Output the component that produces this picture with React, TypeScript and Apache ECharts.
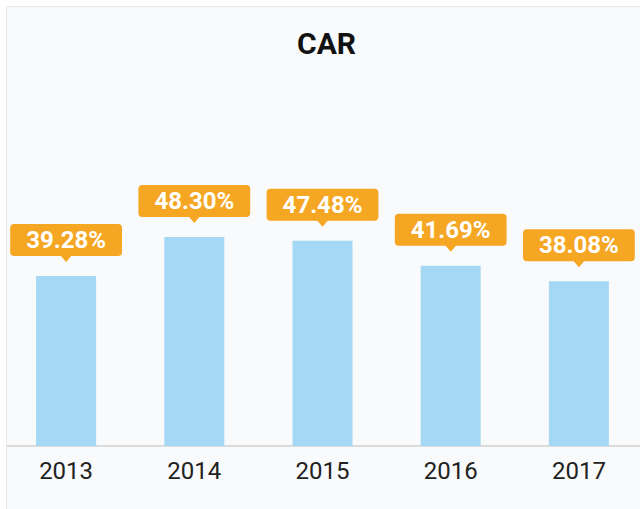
import React, { useEffect, useRef } from "react";
import * as echarts from "echarts";

const chartTitle = "CAR";
const categories = ["2013", "2014", "2015", "2016", "2017"];
const values = [39.28, 48.3, 47.48, 41.69, 38.08];

const ORANGE = "#f5a623";
const BAR = "#a5d8f5";

export default function App() {
  const ref = useRef<HTMLDivElement>(null);

  useEffect(() => {
    if (!ref.current) return;
    const chart = echarts.init(ref.current, null, { renderer: "svg" });
    const labels = values.map((v) => v.toFixed(2) + "%");
    chart.setOption({
      animation: false,
      backgroundColor: "transparent",
      textStyle: { fontFamily: "Roboto" },
      title: {
        text: chartTitle,
        left: "center",
        top: 23,
        textStyle: { fontFamily: "Roboto", fontSize: 30, fontWeight: "bold", color: "#111" },
      },
      grid: { left: 2, width: 641, top: 13.5, height: 432.5 },
      xAxis: {
        type: "category",
        data: categories,
        axisLine: { show: true, lineStyle: { color: "#dcdcdc", width: 2 } },
        axisTick: { show: false },
        axisLabel: { fontFamily: "Roboto", fontSize: 24, color: "#222", margin: 13 },
      },
      yAxis: { type: "value", min: 0, max: 100, show: false },
      series: [
        {
          type: "bar",
          data: values,
          barWidth: 60,
          itemStyle: { color: BAR },
        },
        {
          type: "custom",
          clip: false,
          z: 5,
          data: values.map((v, i) => [i, v]),
          encode: { x: 0, y: 1 },
          renderItem: (params: any, api: any) => {
            const idx = api.value(0);
            const val = api.value(1);
            const pt = api.coord([idx, val]);
            const x = pt[0];
            const y = pt[1];
            return {
              type: "group",
              children: [
                {
                  type: "polygon",
                  shape: { points: [[x - 6, y - 21], [x + 6, y - 21], [x, y - 14]] },
                  style: { fill: ORANGE },
                },
                {
                  type: "text",
                  x: x,
                  y: y - 20,
                  style: {
                    text: labels[idx],
                    fill: "#fff",
                    fontFamily: "Roboto",
                    fontSize: 24,
                    fontWeight: "bold",
                    align: "center",
                    verticalAlign: "bottom",
                    backgroundColor: ORANGE,
                    padding: [4, 16, 4, 16],
                    borderRadius: 4,
                    lineHeight: 24,
                  },
                },
              ],
            };
          },
        },
      ],
    });
    return () => chart.dispose();
  }, []);

  return (
    <div style={{ position: "absolute", left: 0, top: 0, width: 640, height: 509, overflow: "hidden", background: "#fff" }}>
      <div
        style={{
          position: "absolute",
          left: 6,
          top: 6,
          width: 660,
          height: 530,
          boxSizing: "border-box",
          border: "1px solid #e8eaed",
          background: "#f9fafb",
        }}
      />
      <div style={{ position: "absolute", left: 7, top: 7, width: 633, height: 502, overflow: "hidden" }}>
        <div ref={ref} style={{ position: "absolute", left: -7, top: -7, width: 653, height: 509 }} />
      </div>
    </div>
  );
}
